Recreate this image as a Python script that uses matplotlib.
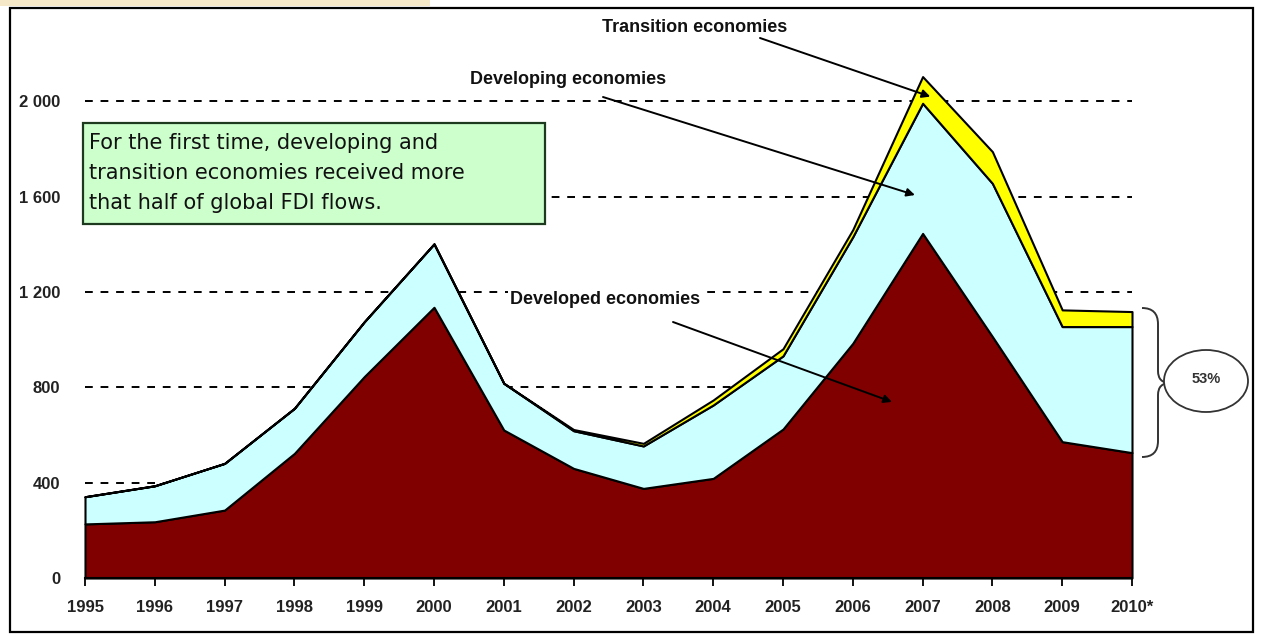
import matplotlib
matplotlib.use("Agg")
import matplotlib.pyplot as plt
from matplotlib.patches import Rectangle, Ellipse, PathPatch
from matplotlib.path import Path

# FDI inflows by group of economies, billions of dollars
years = list(range(1995, 2011))
year_labels = ["1995", "1996", "1997", "1998", "1999", "2000", "2001", "2002",
               "2003", "2004", "2005", "2006", "2007", "2008", "2009", "2010*"]
developed = [227, 236, 285, 523, 845, 1136, 621, 460, 376, 418, 625, 985, 1446, 1013, 572, 526]
developing = [114, 151, 196, 189, 230, 266, 196, 158, 178, 308, 307, 447, 546, 643, 483, 529]
transition = [0, 0, 0, 0, 0, 0, 0, 5, 11, 21, 30, 30, 112, 133, 70, 63]
y_ticks = [0, 400, 800, 1200, 1600, 2000]
y_tick_labels = ["0", "400", "800", "1 200", "1 600", "2 000"]

W, H = 1264, 640


def fx(px):
    return px / W


def fy(py):
    return 1 - py / H


fig = plt.figure(figsize=(W / 100, H / 100), dpi=100)
fig.patch.set_facecolor("white")

ax = fig.add_axes([fx(85), fy(578), fx(1132) - fx(85), (578 - 53.7) / H])
polys = ax.stackplot(years, developed, developing, transition,
                     colors=["#800000", "#ccffff", "#ffff00"],
                     edgecolor="black", linewidth=1.5, zorder=3)
for p in polys:
    p.set_clip_on(False)

ax.set_xlim(1995, 2010)
ax.set_ylim(0, 2200)
ax.set_xticks(years)
ax.set_xticklabels(year_labels)
ax.set_yticks(y_ticks)
ax.set_yticklabels(y_tick_labels)
for lab in ax.get_xticklabels() + ax.get_yticklabels():
    lab.set_fontfamily("Liberation Sans")
    lab.set_fontweight("bold")
    lab.set_fontsize(12)
    lab.set_color("#222222")

ax.yaxis.grid(True, color="black", linestyle=(0, (4, 4)), linewidth=1.4)
ax.set_axisbelow(True)
ax.tick_params(axis="y", length=0, pad=18)
ax.tick_params(axis="x", direction="out", length=6, width=1.3, pad=10)
for side in ("left", "top", "right"):
    ax.spines[side].set_visible(False)
ax.spines["bottom"].set_linewidth(1.5)
ax.spines["bottom"].set_zorder(4)
ax.set_facecolor("none")

# labels with arrows
label_kw = dict(fontfamily="Liberation Sans", fontweight="bold", fontsize=13,
                ha="center", va="center", color="#111111")
fig.text(fx(695), fy(27), "Transition economies", **label_kw)
fig.text(fx(568), fy(80), "Developing economies", **label_kw)
fig.text(fx(605), fy(299), "Developed economies",
         bbox=dict(facecolor="white", edgecolor="none", pad=1), **label_kw)

arrow_kw = dict(arrowstyle="-|>", color="black", lw=1.4, mutation_scale=12,
                shrinkA=0, shrinkB=0)
for start, end in [((760, 38), (2007.11, 2020)),
                   ((603, 97), (2006.89, 1607)),
                   ((673, 322), (2006.56, 739))]:
    ax.annotate("", xy=end, xycoords="data",
                xytext=(fx(start[0]), fy(start[1])), textcoords="figure fraction",
                arrowprops=arrow_kw, annotation_clip=False, zorder=6)

# green note box
fig.patches.append(Rectangle((fx(83), fy(224)), fx(545) - fx(83), (224 - 123) / H,
                             transform=fig.transFigure, facecolor="#ccffcc",
                             edgecolor="#1e3a1e", linewidth=1.6, zorder=5))
fig.text(fx(89), fy(173),
         "For the first time, developing and\n"
         "transition economies received more\n"
         "that half of global FDI flows.",
         fontfamily="DejaVu Sans", fontsize=15, ha="left", va="center",
         linespacing=1.62, color="#111111", zorder=6)

# brace and 53% ellipse
bx, top, bot, tip_y, tip_x = 1158, 308, 457, 383, 1170
verts = [(1142, top), (bx, top), (bx, top + 16), (bx, tip_y - 12),
         (bx, tip_y), (tip_x, tip_y),
         (bx, tip_y), (bx, tip_y + 12), (bx, bot - 16), (bx, bot), (1142, bot)]
codes = [Path.MOVETO, Path.CURVE3, Path.CURVE3, Path.LINETO,
         Path.CURVE3, Path.CURVE3,
         Path.CURVE3, Path.CURVE3, Path.LINETO, Path.CURVE3, Path.CURVE3]
brace = Path([(fx(a), fy(b)) for a, b in verts], codes)
fig.patches.append(PathPatch(brace, transform=fig.transFigure, facecolor="none",
                             edgecolor="#333333", linewidth=1.4))
fig.patches.append(Ellipse((fx(1206), fy(381)), 84 / W, 62 / H,
                           transform=fig.transFigure, facecolor="white",
                           edgecolor="#333333", linewidth=1.3))
fig.text(fx(1206), fy(379), "53%", fontfamily="Liberation Sans", fontweight="bold",
         fontsize=10.5, ha="center", va="center", color="#333333")

# outer frame and top strip
fig.patches.append(Rectangle((0, fy(6)), fx(430), 6 / H, transform=fig.transFigure,
                             facecolor="#f4e8c8", edgecolor="none"))
fig.patches.append(Rectangle((fx(10), fy(632)), fx(1253) - fx(10), (632 - 8) / H,
                             transform=fig.transFigure, facecolor="none",
                             edgecolor="black", linewidth=1.6))

fig.savefig("out.png", dpi=100)
